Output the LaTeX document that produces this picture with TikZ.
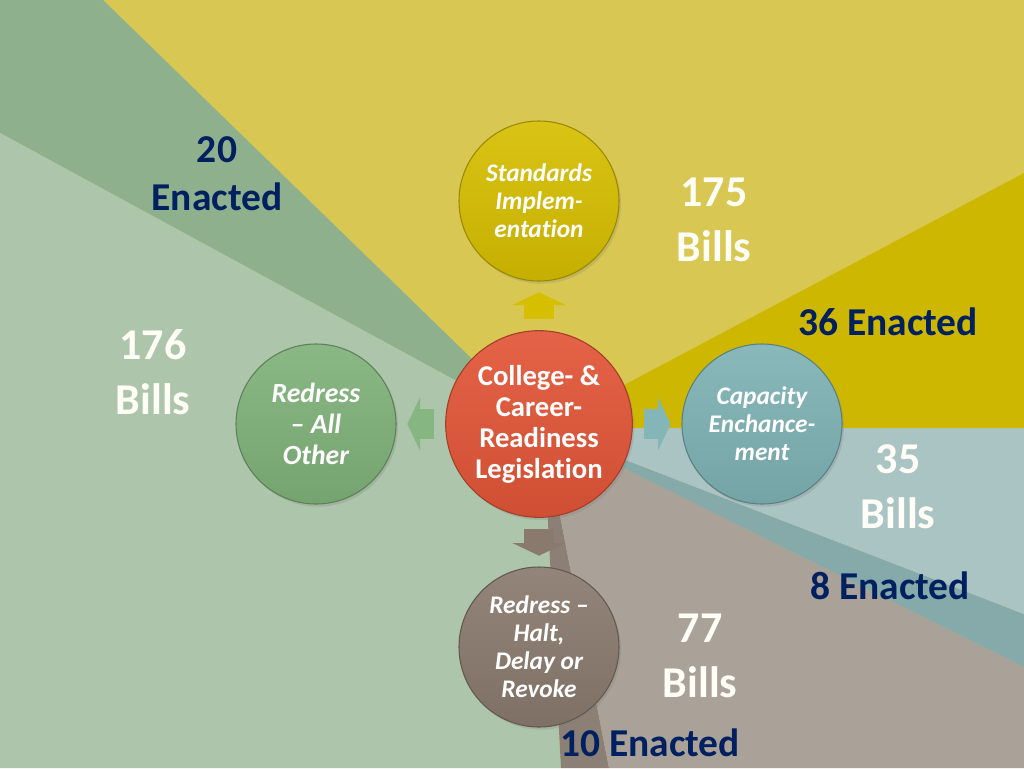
\documentclass[tikz,border=0pt]{standalone}
\usepackage{fontspec}
\setmainfont{Carlito}[Ligatures={TeX,NoCommon}]
\usetikzlibrary{arrows.meta,shadows}
\definecolor{navy}{RGB}{0,32,96}
\definecolor{bgyellow}{RGB}{216,199,82}
\definecolor{bgyellowdark}{RGB}{205,183,0}
\definecolor{bgblue}{RGB}{170,196,196}
\definecolor{bgteal}{RGB}{134,170,170}
\definecolor{bgtaupe}{RGB}{170,161,152}
\definecolor{bgtaupedark}{RGB}{140,128,118}
\definecolor{bggreen}{RGB}{173,197,170}
\definecolor{bggreendark}{RGB}{143,176,141}
\definecolor{stdcol}{RGB}{214,190,0}
\definecolor{legcol}{RGB}{226,86,56}
\definecolor{othcol}{RGB}{128,178,122}
\definecolor{capcol}{RGB}{126,178,180}
\definecolor{haltcol}{RGB}{138,122,110}

\begin{document}
\begin{tikzpicture}[x=0.75pt,y=-0.75pt,
	bubble/.style={circle, draw=#1!72!black, line width=0.8pt, top color=#1!92!white, bottom color=#1!92!black,
		minimum size=120pt, inner sep=0pt, outer sep=0pt, text=white, align=center,
		drop shadow={opacity=0.25, shadow xshift=1.5pt, shadow yshift=-2pt},
		font=\bfseries\itshape\fontsize{19}{21}\selectfont},
	push/.style={line width=23pt, draw=#1, -{Triangle[length=9.5pt, width=40pt, line width=0pt]},
		shorten <=8.5pt, shorten >=8.5pt},
	bills/.style={text=white!97!yellow, align=center, font=\bfseries\fontsize{33}{41}\selectfont},
	enacted/.style={text=navy, align=center, font=\bfseries\fontsize{29.6}{36}\selectfont}]
	\useasboundingbox (0,0) rectangle (1024,768);
	\coordinate (c) at (543,428);
	\fill[bgyellow] (0,0) rectangle (1024,768);
	\fill[bggreendark] (0,0) -- (103,0) -- (c) -- (0,133) -- cycle;
	\fill[bggreen] (c) -- (0,133) -- (0,768) -- (561,768) -- cycle;
	\fill[bgtaupedark] (c) -- (561,768) -- (609,768) -- cycle;
	\fill[bgtaupe] (c) -- (609,768) -- (1024,768) -- (1024,667) -- cycle;
	\fill[bgteal] (c) -- (1024,667) -- (1024,614) -- cycle;
	\fill[bgblue] (c) -- (1024,614) -- (1024,428) -- cycle;
	\fill[bgyellowdark] (c) -- (1024,428) -- (1024,173) -- cycle;

	\node[bubble=legcol, minimum size=140pt, font=\bfseries\fontsize{21.5}{23.3}\selectfont] (leg) at (539,424)
		{College- \&\\Career-\\Readiness\\Legislation};
	\node[bubble=stdcol] (std) at (539,201) {Standards\\Implem-\\entation};
	\node[bubble=othcol, font=\bfseries\itshape\fontsize{20.8}{23.3}\selectfont] (oth) at (316,424)
		{Redress\\-- All\\Other};
	\node[bubble=capcol] (cap) at (762,424) {Capacity\\Enchance-\\ment};
	\node[bubble=haltcol] (halt) at (539,647) {Redress --\\Halt,\\Delay or\\Revoke};

	\draw[push=stdcol] (leg) -- (std);
	\draw[push=othcol!95!white] (leg) -- (oth);
	\draw[push=capcol!95!white] (leg) -- (cap);
	\draw[push=haltcol] (leg) -- (halt);

	\node[enacted] (e20) at (217,174) {20\\Enacted};
	\node[bills] (b175) at (714,220) {175\\Bills};
	\node[enacted] (e36) at (888,322) {36 Enacted};
	\node[bills] (b176) at (153,372) {176\\Bills};
	\node[bills] (b35) at (898,487) {35\\Bills};
	\node[enacted] (e8) at (890,586) {8 Enacted};
	\node[bills] (b77) at (700,656) {77\\Bills};
	\node[enacted] (e10) at (650,743) {10 Enacted};
\end{tikzpicture}
\end{document}
